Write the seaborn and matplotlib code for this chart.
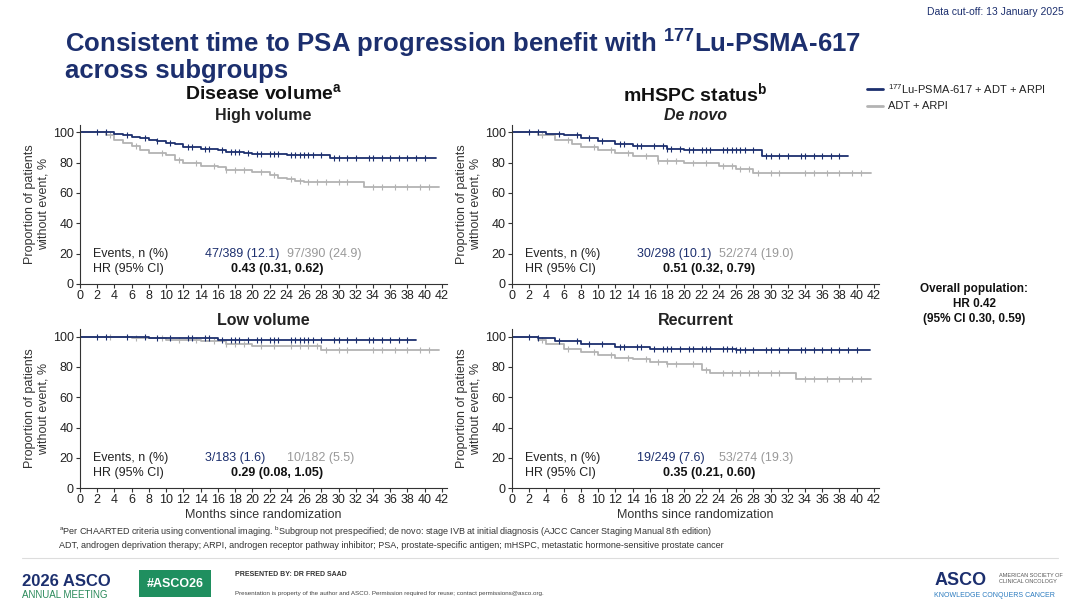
import numpy as np
import pandas as pd
import matplotlib
matplotlib.use("Agg")
import matplotlib.pyplot as plt
import seaborn as sns

BLUE = "#1c2f6e"
GREY = "#b3b3b3"

# ---- KM step data (time, % without event) ----
hv_lu_t = [0, 3, 4, 5, 6, 7, 8, 9, 10, 11, 12, 14, 16, 17, 19, 20, 24, 29, 41.3]
hv_lu_s = [100, 100, 99, 98, 97, 96, 95, 94, 93, 92, 90, 89, 88, 87, 86, 85.5, 85, 83, 83]
hv_ct_t = [0, 3, 4, 5, 6, 7, 8, 10, 11, 12, 14, 16, 17, 20, 22, 23, 24, 25, 26, 33, 41.7]
hv_ct_s = [100, 98, 95, 93, 91, 88, 86, 85, 82, 80, 78, 77, 75, 74, 72, 70, 69, 68, 67, 64, 64]
dn_lu_t = [0, 4, 6, 8, 10, 12, 14, 18, 20, 29, 39]
dn_lu_s = [100, 99, 98, 96, 94, 92, 91, 89, 88, 84, 84]
dn_ct_t = [0, 3, 5, 7, 8, 10, 12, 14, 17, 20, 24, 26, 28, 41.7]
dn_ct_s = [100, 98, 95, 92, 90, 88, 86, 84, 81, 80, 78, 76, 73, 73]
lv_lu_t = [0, 8, 16, 39]
lv_lu_s = [100, 99, 98, 98]
lv_ct_t = [0, 6, 10, 14, 17, 20, 28, 41.7]
lv_ct_s = [100, 99, 98, 97, 95, 94, 91, 91]
rc_lu_t = [0, 3, 5, 8, 12, 16, 20, 26, 41.5]
rc_lu_s = [100, 99, 97, 95, 93, 92, 91.5, 91, 91]
rc_ct_t = [0, 3, 4, 6, 8, 10, 12, 14, 16, 18, 22, 23, 33, 41.7]
rc_ct_s = [100, 98, 95, 92, 90, 88, 86, 85, 83, 82, 78, 76, 72, 72]

# censoring tick times
cens_a = [2, 3, 5.5, 7.5, 9, 10.5, 12.5, 13, 14.5, 15, 16.5, 17.5, 18, 18.5, 19.5, 20.5, 21, 22,
          22.5, 23, 24.5, 25, 25.5, 26, 26.5, 27, 28, 29.5, 30, 31, 32, 33.5, 34, 35, 36, 37, 38, 39, 40]
cens_b = [3.5, 6.5, 9.5, 11.5, 13.5, 15.5, 17, 18, 19, 21, 22.5, 24.5, 25.5, 26.5, 27.5, 28.5,
          30, 31, 34, 35, 36.5, 38, 39.5, 40.5]

panels = [
    ("High volume", False, hv_lu_t, hv_lu_s, hv_ct_t, hv_ct_s, "47/389 (12.1)", "97/390 (24.9)", "0.43 (0.31, 0.62)"),
    ("De novo", True, dn_lu_t, dn_lu_s, dn_ct_t, dn_ct_s, "30/298 (10.1)", "52/274 (19.0)", "0.51 (0.32, 0.79)"),
    ("Low volume", False, lv_lu_t, lv_lu_s, lv_ct_t, lv_ct_s, "3/183 (1.6)", "10/182 (5.5)", "0.29 (0.08, 1.05)"),
    ("Recurrent", False, rc_lu_t, rc_lu_s, rc_ct_t, rc_ct_s, "19/249 (7.6)", "53/274 (19.3)", "0.35 (0.21, 0.60)"),
]

sns.set_style("ticks")
plt.rcParams["font.family"] = ["Liberation Sans", "DejaVu Sans"]

fig = plt.figure(figsize=(10.8, 6.08), dpi=100)
pos = [(0.074, 0.533), (0.474, 0.533), (0.074, 0.197), (0.474, 0.197)]
W, H = 0.340, 0.262


def step_at(t, ts, ss):
    i = np.searchsorted(ts, t, side="right") - 1
    return ss[max(i, 0)]


for (title, ital, lt, ls, ct, cs, ev1, ev2, hr), (x0, y0), idx in zip(panels, pos, range(4)):
    ax = fig.add_axes([x0, y0, W, H])
    for ts, ss, col in [(ct, cs, GREY), (lt, ls, BLUE)]:
        df = pd.DataFrame({"t": ts, "s": ss})
        sns.lineplot(data=df, x="t", y="s", drawstyle="steps-post", color=col, lw=1.3,
                     estimator=None, ax=ax)
        ctimes = [c for c in (cens_a if col == BLUE else cens_b) if c < ts[-1]]
        ax.plot(ctimes, [step_at(c, ts, ss) for c in ctimes], "|", color=col, ms=4, mew=0.8)
    ax.set_xlim(0, 42.6)
    ax.set_ylim(0, 105)
    ax.set_xticks(range(0, 43, 2))
    ax.set_yticks(range(0, 101, 20))
    ax.tick_params(labelsize=9, length=3, pad=1.5, color="#333333", labelcolor="#222222")
    for sp in ["left", "bottom"]:
        ax.spines[sp].set_color("#333333")
    sns.despine(ax=ax)
    ax.set_ylabel("Proportion of patients\nwithout event, %", fontsize=9, color="#333333", labelpad=2)
    ax.set_xlabel("Months since randomization" if idx >= 2 else "", fontsize=9, color="#333333", labelpad=2)
    ax.set_title(title, fontsize=11.5, fontweight="bold", style="italic" if ital else "normal",
                 color="#222222", pad=3)
    ax.text(1.5, 20, "Events, n (%)", fontsize=9, color="#222222", va="center")
    ax.text(14.5, 20, ev1, fontsize=9, color=BLUE, va="center")
    ax.text(24, 20, ev2, fontsize=9, color="#999999", va="center")
    ax.text(1.5, 10, "HR (95% CI)", fontsize=9, color="#222222", va="center")
    ax.text(17.5, 10, hr, fontsize=9, color="#111111", fontweight="bold", va="center")

# headers and slide text
fig.text(0.985, 0.975, "Data cut-off: 13 January 2025", fontsize=7.5, color="#1c2f6e", ha="right")
fig.text(0.060, 0.910, "Consistent time to PSA progression benefit with $^{\\mathregular{177}}$Lu-PSMA-617\nacross subgroups",
         fontsize=18.5, fontweight="bold", color="#1c2f6e", va="center", linespacing=1.0)
fig.text(0.244, 0.846, "Disease volume$^{\\mathregular{a}}$", fontsize=14, fontweight="bold", ha="center",
         va="center", color="#111111")
fig.text(0.644, 0.846, "mHSPC status$^{\\mathregular{b}}$", fontsize=14, fontweight="bold", ha="center",
         va="center", color="#111111")

fig.lines.append(plt.Line2D([0.803, 0.818], [0.853, 0.853], color=BLUE, lw=2, transform=fig.transFigure))
fig.lines.append(plt.Line2D([0.803, 0.818], [0.826, 0.826], color=GREY, lw=2, transform=fig.transFigure))
fig.text(0.822, 0.853, "$^{\\mathregular{177}}$Lu-PSMA-617 + ADT + ARPI", fontsize=8, va="center", color="#222222")
fig.text(0.822, 0.826, "ADT + ARPI", fontsize=8, va="center", color="#222222")

fig.text(0.902, 0.500, "Overall population:\nHR 0.42\n(95% CI 0.30, 0.59)", fontsize=8.5, fontweight="bold",
         ha="center", va="center", color="#111111", linespacing=1.3)

fig.text(0.055, 0.120, "$^{\\mathregular{a}}$Per CHAARTED criteria using conventional imaging. $^{\\mathregular{b}}$Subgroup not prespecified; de novo: stage IVB at initial diagnosis (AJCC Cancer Staging Manual 8th edition)",
         fontsize=6.5, color="#333333")
fig.text(0.055, 0.099, "ADT, androgen deprivation therapy; ARPI, androgen receptor pathway inhibitor; PSA, prostate-specific antigen; mHSPC, metastatic hormone-sensitive prostate cancer",
         fontsize=6.5, color="#333333")
fig.lines.append(plt.Line2D([0.02, 0.98], [0.083, 0.083], color="#dddddd", lw=0.8, transform=fig.transFigure))

fig.text(0.020, 0.043, "2026 ASCO", fontsize=12, fontweight="bold", color="#1c2f6e", va="center")
fig.text(0.020, 0.022, "ANNUAL MEETING", fontsize=7, color="#2a8a5a", va="center")
fig.text(0.162, 0.040, "#ASCO26", fontsize=9, fontweight="bold", color="white", ha="center", va="center",
         bbox=dict(boxstyle="square,pad=0.6", fc="#1f8f5f", ec="none"))
fig.text(0.218, 0.052, "PRESENTED BY: DR FRED SAAD", fontsize=5, fontweight="bold", color="#333333")
fig.text(0.218, 0.022, "Presentation is property of the author and ASCO. Permission required for reuse; contact permissions@asco.org.",
         fontsize=4.5, color="#444444")
fig.text(0.865, 0.045, "ASCO", fontsize=13, fontweight="bold", color="#1c2f6e", va="center")
fig.text(0.925, 0.049, "AMERICAN SOCIETY OF\nCLINICAL ONCOLOGY", fontsize=4, color="#555555", va="center")
fig.text(0.865, 0.020, "KNOWLEDGE CONQUERS CANCER", fontsize=5, color="#2a7abf", va="center")

fig.savefig("out.png", dpi=100)
